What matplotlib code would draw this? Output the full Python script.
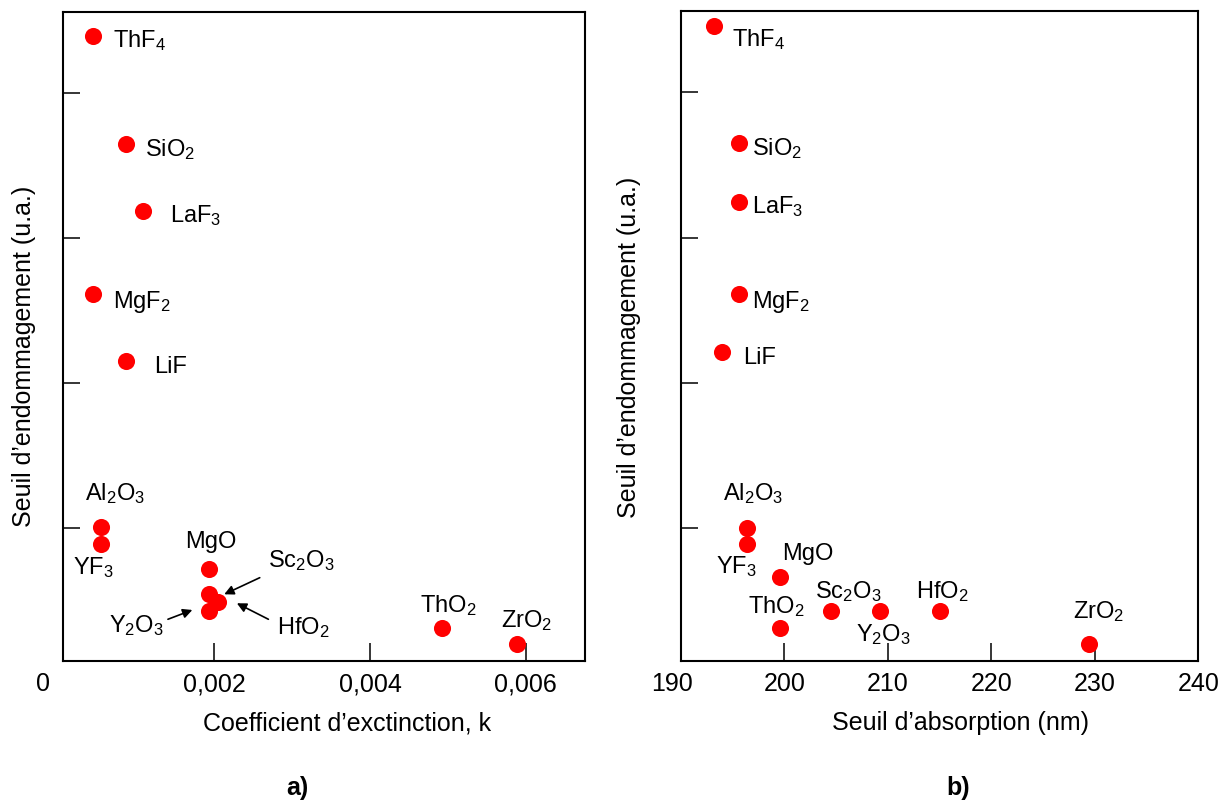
import matplotlib
matplotlib.use("Agg")
import matplotlib.pyplot as plt
from matplotlib.transforms import offset_copy

plt.rcParams['font.family'] = ['Liberation Sans', 'DejaVu Sans']
plt.rcParams['mathtext.fontset'] = 'custom'
plt.rcParams['mathtext.rm'] = 'Liberation Sans'
plt.rcParams['mathtext.it'] = 'Liberation Sans:italic'
plt.rcParams['mathtext.bf'] = 'Liberation Sans:bold'

# ---------------- data ----------------
materials = ["ThF$_4$", "SiO$_2$", "LaF$_3$", "MgF$_2$", "LiF", "Al$_2$O$_3$", "YF$_3$",
             "MgO", "Sc$_2$O$_3$", "HfO$_2$", "Y$_2$O$_3$", "ThO$_2$", "ZrO$_2$"]
# panel a) : extinction coefficient k vs damage threshold (a.u.)
k_ext = [0.000438, 0.000866, 0.00108, 0.000438, 0.000866, 0.000543, 0.000543,
         0.001934, 0.001934, 0.00205, 0.001934, 0.004925, 0.005883]
seuil_a = [4.396, 3.649, 3.189, 2.614, 2.154, 1.007, 0.892,
           0.722, 0.545, 0.490, 0.430, 0.315, 0.202]
# panel b) : absorption edge (nm) vs damage threshold (a.u.)
abs_edge = [193.2, 195.6, 195.6, 195.6, 194.0, 196.4, 196.4,
            199.6, 204.5, 215.0, 209.3, 199.6, 229.4]
seuil_b = [4.456, 3.649, 3.246, 2.614, 2.211, 1.004, 0.892,
           0.660, 0.430, 0.430, 0.430, 0.315, 0.200]

xticks_a = [0.002, 0.004, 0.006]
xticklabels_a = ["0,002", "0,004", "0,006"]
corner_label_a = "0"
xticks_b = [200, 210, 220, 230, 240]
xticklabels_b = ["200", "210", "220", "230", "240"]
corner_label_b = "190"
yticks = [1, 2, 3, 4]

# ---------------- layout (pixel offsets of labels: dx right, dy down, alignment) ----------------
lab_off_a = [(20, 11.7, 'left'), (18.3, 11.7, 'left'), (27.3, 11.7, 'left'), (20, 13.4, 'left'),
             (28.3, 11.7, 'left'), (13.8, -27.3, 'center'), (-7.7, 30, 'center'),
             (1.5, -20.4, 'center'), (92.1, -27, 'center'), (85.4, 31.7, 'center'),
             (-72.5, 20.7, 'center'), (6.1, -15.2, 'center'), (9.5, -17, 'center')]
lab_off_b = [(17.7, 20.4, 'left'), (13.3, 11.7, 'left'), (13.3, 11.6, 'left'), (13.7, 14.7, 'left'),
             (21, 12.3, 'left'), (5.7, -27.7, 'center'), (-10.7, 29.3, 'center'),
             (27.5, -17.7, 'center'), (17.7, -12.7, 'center'), (3, -12.7, 'center'),
             (3, 30.7, 'center'), (-3.4, -14.4, 'center'), (9.7, -26.3, 'center')]
# arrows in panel a): index, head offset (dx, dy_down), tail relative to head (dx, dy_down)
arrows_a = [(8, (14.9, 0), (35.5, -16.6)),
            (9, (18.5, 1.0), (31.5, 16.0)),
            (10, (-17, -1.0), (-24.4, 9.3))]

W, H = 1230, 802
fig = plt.figure(figsize=(W / 100, H / 100), dpi=100)


def fbox(x0, y0, x1, y1):
    return [x0 / W, 1 - y1 / H, (x1 - x0) / W, (y1 - y0) / H]


ax_a = fig.add_axes(fbox(62.7, 12, 585, 661))
ax_b = fig.add_axes(fbox(680.7, 11, 1198.3, 661))

LABEL_FS = 17
TICK_FS = 18
AXIS_FS = 18


def style(ax, xlim, xt, xtl):
    ax.set_xlim(*xlim)
    ax.set_ylim(0.085, 4.56)
    ax.set_xticks(xt)
    ax.set_xticklabels(xtl)
    ax.set_yticks(yticks)
    ax.set_yticklabels([])
    for s in ax.spines.values():
        s.set_linewidth(1.5)
        s.set_color('black')
    ax.tick_params(axis='x', direction='in', length=12.7, width=1.1, pad=8.0,
                   labelsize=TICK_FS, top=False)
    ax.tick_params(axis='y', direction='in', length=12.5, width=1.1, right=False)


def draw(ax, xs, ys, offs):
    ax.plot(xs, ys, linestyle='none', marker='o', markersize=12.3,
            markerfacecolor='#ff0000', markeredgecolor='none', clip_on=False, zorder=3)
    for x, y, lab, (dx, dy, ha) in zip(xs, ys, materials, offs):
        ax.annotate(lab, xy=(x, y), xycoords='data', xytext=(dx, -dy),
                    textcoords='offset pixels', ha=ha, va='baseline', fontsize=LABEL_FS)


style(ax_a, (0.00005, 0.00676), xticks_a, xticklabels_a)
style(ax_b, (190, 240), xticks_b, xticklabels_b)
draw(ax_a, k_ext, seuil_a, lab_off_a)
draw(ax_b, abs_edge, seuil_b, lab_off_b)

# corner labels ("0" and "190") placed left of the lower-left corners, aligned like tick labels
tick_pad_px = 8.0 * 100 / 72
ax_a.annotate(corner_label_a, xy=(0, 0), xycoords='axes fraction', xytext=(-20, -tick_pad_px),
              textcoords='offset pixels', ha='center', va='top', fontsize=TICK_FS)
ax_b.annotate(corner_label_b, xy=(0, 0), xycoords='axes fraction', xytext=(-9, -tick_pad_px),
              textcoords='offset pixels', ha='center', va='top', fontsize=TICK_FS)

for idx, (hx, hy), (tx, ty) in arrows_a:
    tr = offset_copy(ax_a.transData, fig=fig, x=hx, y=-hy, units='dots')
    ax_a.annotate('', xy=(k_ext[idx], seuil_a[idx]), xycoords=tr,
                  xytext=(tx, -ty), textcoords='offset pixels',
                  arrowprops=dict(arrowstyle='-|>', color='black', lw=1.2,
                                  mutation_scale=14, shrinkA=0, shrinkB=0))

# axis titles and captions
fig.text(347 / W, 1 - 723 / H, "Coefficient d’exctinction, k", ha='center', va='center',
         fontsize=AXIS_FS)
fig.text(960 / W, 1 - 723 / H, "Seuil d’absorption (nm)", ha='center', va='center',
         fontsize=AXIS_FS)
fig.text(24 / W, 1 - 356 / H, "Seuil d’endommagement (u.a.)", rotation=90,
         ha='center', va='center', fontsize=AXIS_FS)
fig.text(629 / W, 1 - 347 / H, "Seuil d’endommagement (u.a.)", rotation=90,
         ha='center', va='center', fontsize=AXIS_FS)
fig.text(297 / W, 1 - 788 / H, "a)", ha='center', va='center', fontsize=AXIS_FS,
         fontweight='bold')
fig.text(958 / W, 1 - 788 / H, "b)", ha='center', va='center', fontsize=AXIS_FS,
         fontweight='bold')

fig.savefig("out.png", dpi=100, facecolor='white')
